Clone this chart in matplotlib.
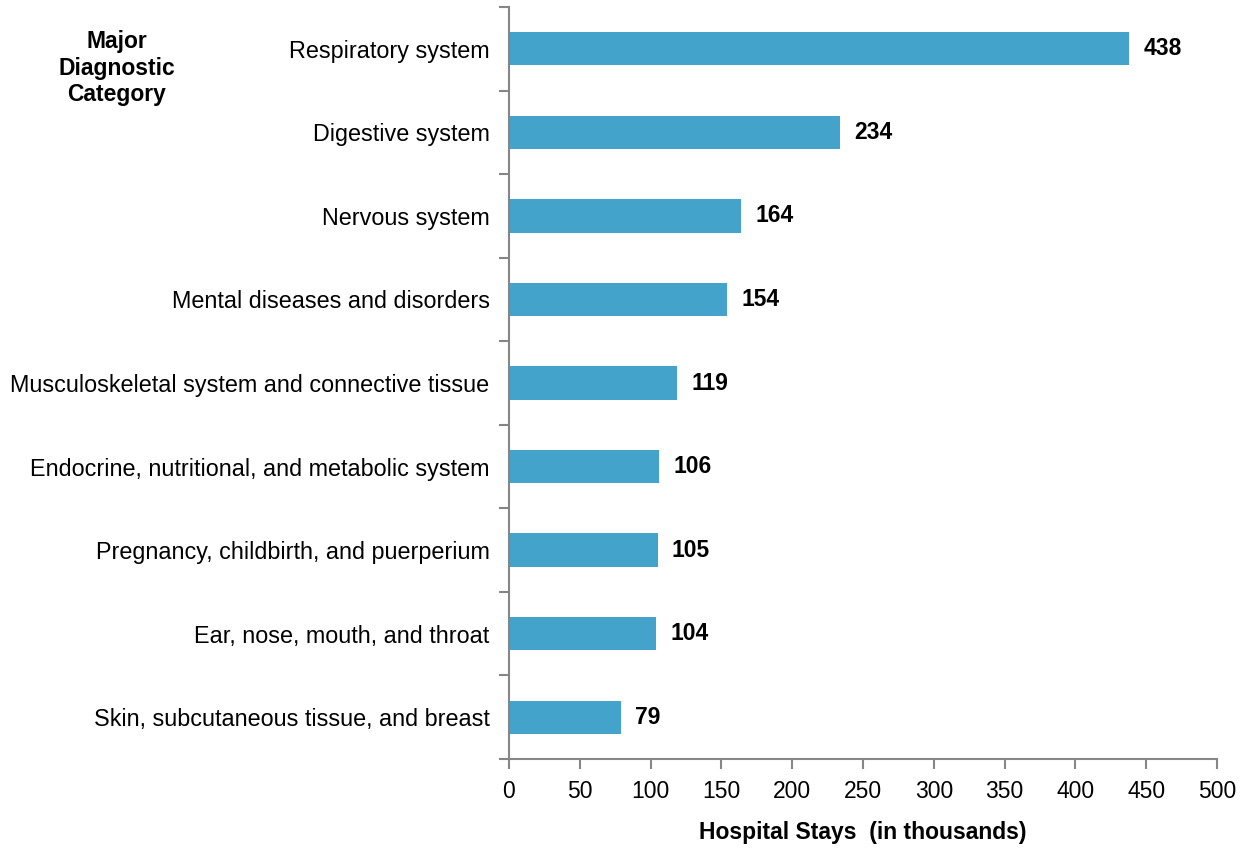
import matplotlib.pyplot as plt
import numpy as np

plt.rcParams['font.family'] = ['Liberation Sans', 'DejaVu Sans']

categories = ['Respiratory system', 'Digestive system', 'Nervous system',
              'Mental diseases and disorders',
              'Musculoskeletal system and connective tissue',
              'Endocrine, nutritional, and metabolic system',
              'Pregnancy, childbirth, and puerperium',
              'Ear, nose, mouth, and throat',
              'Skin, subcutaneous tissue, and breast']
stays = [438, 234, 164, 154, 119, 106, 105, 104, 79]
xticks = [0, 50, 100, 150, 200, 250, 300, 350, 400, 450, 500]

axis_col = '#868686'
bar_col = '#44A3CB'

fig = plt.figure(figsize=(12.45, 8.5), dpi=100)
ax = fig.add_axes([0.4088, 0.107, 0.9775 - 0.4088, 0.9918 - 0.107])

n = len(categories)
y = np.arange(n)
ax.barh(y, stays, height=0.4, color=bar_col)
ax.set_ylim(n - 0.5, -0.5)
ax.set_xlim(0, 500)

for yi, v in zip(y, stays):
    ax.text(v + 10, yi, str(v), va='center', ha='left', fontsize=16.5,
            fontweight='bold')

ax.set_yticks(y)
ax.set_yticklabels(categories, fontsize=16.8)
ax.set_yticks(np.arange(n + 1) - 0.5, minor=True)
ax.tick_params(axis='y', which='major', length=0, pad=14)
ax.tick_params(axis='y', which='minor', length=7, width=1.5, color=axis_col)

ax.set_xticks(xticks)
ax.set_xticklabels([str(t) for t in xticks], fontsize=16.5)
ax.tick_params(axis='x', length=7, width=1.5, color=axis_col, pad=8)

for s in ['top', 'right']:
    ax.spines[s].set_visible(False)
for s in ['left', 'bottom']:
    ax.spines[s].set_color(axis_col)
    ax.spines[s].set_linewidth(1.5)

ax.set_xlabel('Hospital Stays  (in thousands)', fontsize=16.5,
              fontweight='bold', labelpad=13)
fig.text(117 / 1245, 1 - 68 / 850, 'Major\nDiagnostic\nCategory',
         ha='center', va='center', fontsize=16.5, fontweight='bold',
         linespacing=1.2)

fig.savefig('out.png', dpi=100)
